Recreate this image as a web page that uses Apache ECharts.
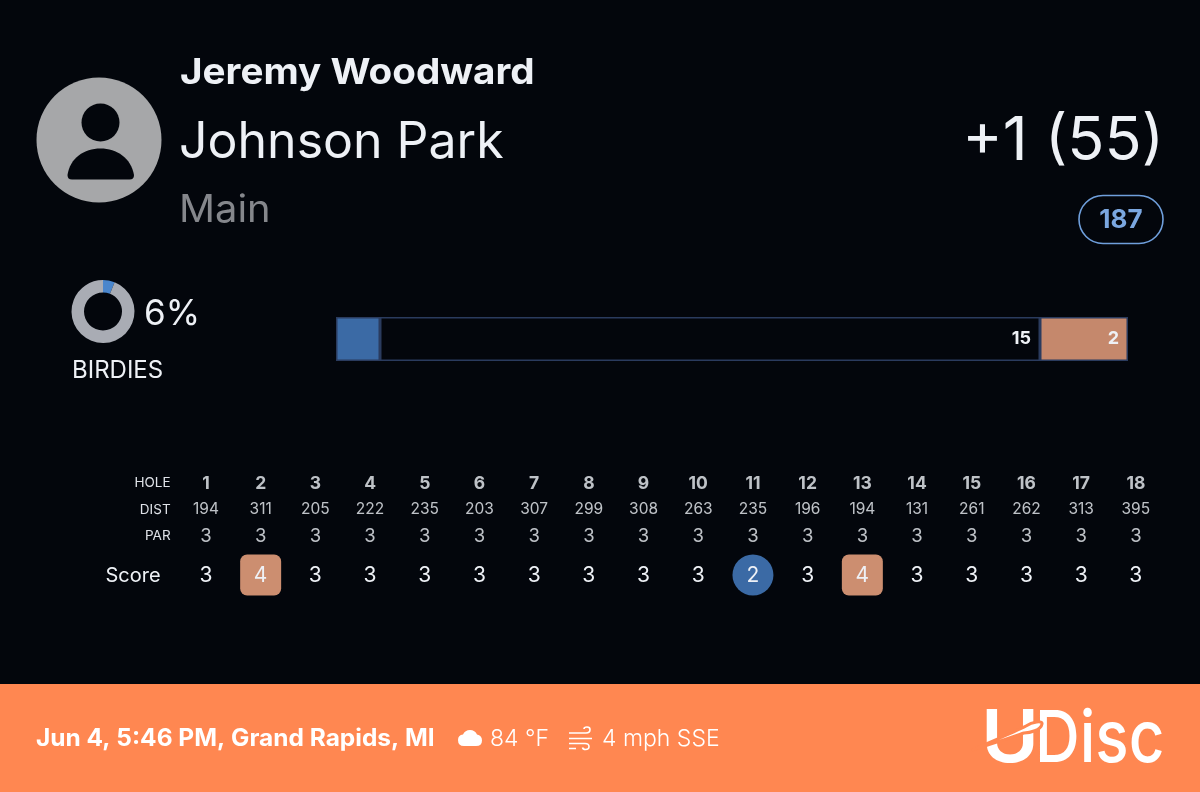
<!DOCTYPE html>
<html>
<head>
<meta charset="utf-8">
<style>html,body{margin:0;padding:0;background:#03060c}#c{width:1200px;height:792px}</style>
<script src="https://cdn.jsdelivr.net/npm/echarts@6/dist/echarts.min.js"></script>
</head>
<body>
<div id="c"></div>
<script>
const holes = ['1','2','3','4','5','6','7','8','9','10','11','12','13','14','15','16','17','18'];
const dist = [194,311,205,222,235,203,307,299,308,263,235,196,194,131,261,262,313,395];
const par = [3,3,3,3,3,3,3,3,3,3,3,3,3,3,3,3,3,3];
const score = [3,4,3,3,3,3,3,3,3,3,2,3,4,3,3,3,3,3];
const rowNames = ['HOLE','DIST','PAR'];
const barCategories = ['Scoring'];
const birdieCount = [1];
const parCount = [15];
const bogeyCount = [2];
const birdiePct = [6, 94];

const FONT = 'Inter';
const WHITE = '#eef1f6';
const chart = echarts.init(document.getElementById('c'), null, {renderer:'canvas'});

function row(name, values, size, weight) {
  return {
    type:'scatter', xAxisIndex:1, yAxisIndex:1, symbolSize:0, silent:true,
    data: values.map((v,i)=>[holes[i], name, v]),
    label:{show:true, position:'inside', formatter:p=>String(p.value[2]),
      color:WHITE, fontFamily:FONT, fontSize:size, fontWeight:weight}
  };
}
function text(x,y,t,size,weight,color,align,sx){
  return {type:'text',x,y,scaleX:sx||1,silent:true,style:{text:t,fontFamily:FONT,fontSize:size,fontWeight:weight,fill:color,
    align:align||'left',verticalAlign:'middle'}};
}
function shapeFrom(name,d,style){
  echarts.graphic.registerShape(name, echarts.graphic.extendPath(d,{}));
  return {type:name,silent:true,style};
}

chart.setOption({
  backgroundColor:'#03060c',
  animation:false,
  grid:[
    {left:336,width:792,top:317,height:44,containLabel:false},
    {left:178.6,width:984.6,top:470,height:79.5},
    {left:178.6,width:984.6,top:556,height:40}
  ],
  xAxis:[
    {gridIndex:0,type:'value',min:0,max:18,show:false},
    {gridIndex:1,type:'category',data:holes,show:false},
    {gridIndex:2,type:'category',data:holes,show:false}
  ],
  yAxis:[
    {gridIndex:0,type:'category',data:barCategories,show:false},
    {gridIndex:1,type:'category',data:rowNames,inverse:true,
      axisLine:{show:false},axisTick:{show:false},splitLine:{show:false},
      axisLabel:{color:'#dfe2e8',fontFamily:FONT,fontSize:13.5,margin:8}},
    {gridIndex:2,type:'category',data:['Score'],
      axisLine:{show:false},axisTick:{show:false},splitLine:{show:false},
      axisLabel:{color:WHITE,fontFamily:FONT,fontSize:20,margin:18}}
  ],
  series:[
    {type:'bar',stack:'s',barWidth:44,silent:true,data:birdieCount,
      itemStyle:{color:'#3b6aa5',borderColor:'#2a3b5e',borderWidth:1.5}},
    {type:'bar',stack:'s',barWidth:44,silent:true,data:parCount,
      itemStyle:{color:'#03060c',borderColor:'#2a3b5e',borderWidth:1.5},
      label:{show:true,position:'insideRight',distance:9,color:WHITE,fontFamily:FONT,fontSize:18,fontWeight:700}},
    {type:'bar',stack:'s',barWidth:44,silent:true,data:bogeyCount,
      itemStyle:{color:'#c5886c',borderColor:'#2a3b5e',borderWidth:1.5},
      label:{show:true,position:'insideRight',distance:9,color:WHITE,fontFamily:FONT,fontSize:18,fontWeight:700}},
    {type:'pie',silent:true,center:[103,311.5],radius:[19,31.5],startAngle:90,clockwise:true,
      label:{show:false},labelLine:{show:false},
      data:[{value:birdiePct[0],itemStyle:{color:'#4a86cc'}},{value:birdiePct[1],itemStyle:{color:'#a9acb4'}}]},
    row('HOLE',holes,17.5,700),
    row('DIST',dist,15.5,400),
    row('PAR',par,18.5,400),
    {type:'custom',xAxisIndex:2,yAxisIndex:2,silent:true,
      data:score.map((v,i)=>[holes[i],'Score',v,par[i]]),
      encode:{x:0,y:1},
      renderItem:(params,api)=>{
        const c = api.coord([api.value(0),api.value(1)]);
        const v = api.value(2), p = api.value(3);
        const kids = [];
        if (v>p) kids.push({type:'rect',shape:{x:c[0]-20.5,y:c[1]-21.5,width:41,height:41,r:7},style:{fill:'#cc8e70'}});
        if (v<p) kids.push({type:'circle',shape:{cx:c[0],cy:c[1]-1,r:20.5},style:{fill:'#3b6aa5'}});
        kids.push({type:'text',style:{x:c[0],y:c[1],text:String(v),fill:WHITE,fontFamily:FONT,fontSize:21,align:'center',verticalAlign:'middle'}});
        return {type:'group',children:kids};
      }}
  ],
  graphic:[
    {type:'circle',silent:true,shape:{cx:99,cy:140,r:62.5},style:{fill:'#a6a7a9'}},
    {type:'circle',silent:true,shape:{cx:100.5,cy:122.5,r:19},style:{fill:'#03060c'}},
    shapeFrom('bodyShape','M72 179.5 Q67.5 179.5 67.5 175 C70 158 84 148.5 100.5 148.5 C117 148.5 131 158 134 175 Q134 179.5 129.5 179.5 Z',{fill:'#03060c'}),
    text(180,73,'Jeremy Woodward',36,700,WHITE,'left',1.073),
    text(179,143,'Johnson Park',50,400,WHITE),
    text(179,211,'Main',38,400,'#85878c','left',1.05),
    text(1164,142,'+1 (55)',60,400,WHITE,'right',1.02),
    {type:'rect',silent:true,shape:{x:1079,y:195.5,width:84,height:48,r:24},style:{fill:'none',stroke:'#6f9fdc',lineWidth:1.6}},
    text(1121,220,'187',26,700,'#7ba7e0','center'),
    text(144,314,'6%',35,400,WHITE),
    text(72,371,'BIRDIES',24,400,WHITE),
    {type:'rect',silent:true,shape:{x:0,y:684,width:1200,height:108},style:{fill:'#ff8751'}},
    text(36,739,'Jun 4, 5:46 PM, Grand Rapids, MI',24,700,'#fff','left',1.02),
    shapeFrom('cloudShape','M464 746 Q458 746 458 740 Q458 735 463 734.5 Q465 730 470 730 Q475 730 477 734.5 Q482 735.5 482 740.5 Q482 746 476 746 Z',{fill:'#fff'}),
    text(490,739,'84 ℉',23,300,'#fff'),
    shapeFrom('windShape','M569 733 H586 Q590 733 590 729.5 Q590 727 587 727 Q584 727 584 729 M569 738.5 H592 M569 743.5 H585 Q589 743.5 589 746.5 Q589 749.5 585.5 749.5 Q583 749.5 582.5 747.5 M569 748.5 H576',{fill:'none',stroke:'#fff',lineWidth:1.6}),
    text(602,739,'4 mph SSE',23,300,'#fff'),
    text(981,740,'U',73,600,'#fff','left',1.08),
    text(1035,740,'Disc',72,500,'#fff','left',0.86),
    shapeFrom('swooshShape','M972 750 C990 742 1015 732 1026 726 C1032 722 1043 720 1042 724 C1041 730 1030 733 1024 733 C1012 737 990 745 972 750 Z',{fill:'#fff',stroke:'#ff8751',lineWidth:3})
  ]
});
</script>
</body>
</html>
